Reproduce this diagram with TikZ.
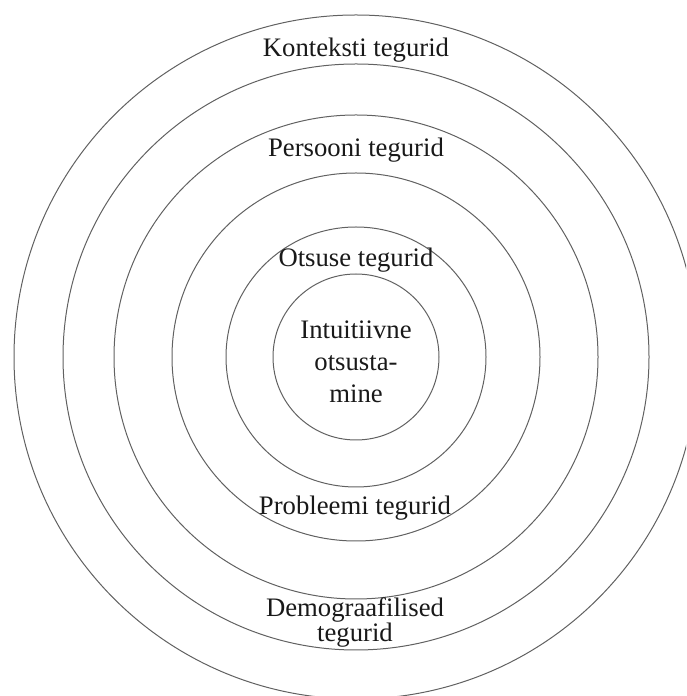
\documentclass[tikz,border=0pt]{standalone}
\usepackage{fontspec}
\setmainfont{Liberation Serif}
\begin{document}
\begin{tikzpicture}[x=1pt,y=1pt,
  ring/.style={draw=black!62, line width=1pt},
  label/.style={inner sep=0pt, font=\fontsize{26.7}{32}\selectfont, text=black!90},
  tightlabel/.style={inner sep=0pt, font=\fontsize{26.7}{20.5}\selectfont, text=black!90, align=center}]
  \useasboundingbox (0,0) rectangle (686,696);
  \clip (0,0) rectangle (686,696);
  \coordinate (c) at (356,339);
  % concentric rings, innermost first
  \draw[ring] (c) circle[radius=83];
  \draw[ring] (c) circle[radius=130];
  \draw[ring] (c) circle[radius=184];
  \draw[ring] (c) circle[radius=242];
  \draw[ring] (c) circle[radius=293];
  \draw[ring] (c) circle[radius=342];
  % ring labels
  \node[label, anchor=base] (kontekst) at (356,639) {Konteksti tegurid};
  \node[label, anchor=base] (persoon) at (356,539) {Persooni tegurid};
  \node[label, anchor=base] (otsus) at (356,429) {Otsuse tegurid};
  \node[label, align=center] (core) at (356,334) {Intuitiivne\\otsusta-\\mine};
  \node[label, anchor=base] (probleem) at (355,181) {Probleemi tegurid};
  \node[tightlabel, anchor=base] (demo) at (355,54) {Demograafilised\\tegurid};
\end{tikzpicture}
\end{document}
